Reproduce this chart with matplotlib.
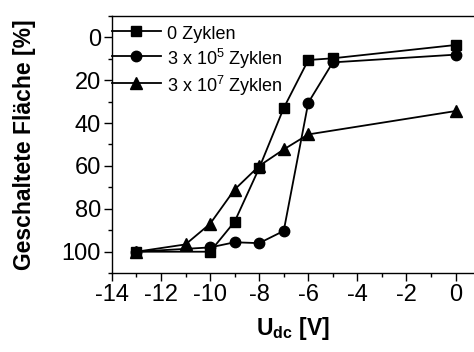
import matplotlib
matplotlib.use("Agg")
import matplotlib.pyplot as plt
from matplotlib.ticker import MultipleLocator

plt.rcParams['font.family'] = ['Liberation Sans', 'DejaVu Sans']
plt.rcParams['axes.unicode_minus'] = False
plt.rcParams['mathtext.fontset'] = 'custom'
plt.rcParams['mathtext.rm'] = 'Liberation Sans'
plt.rcParams['mathtext.bf'] = 'Liberation Sans:bold'

# Switched area vs. DC voltage for different cycle counts
u_sq = [-13, -10, -9, -8, -7, -6, -5, 0]
a_sq = [100, 100, 86, 61, 33, 10.6, 9.8, 3.6]

u_ci = [-13, -10, -9, -8, -7, -6, -5, 0]
a_ci = [100, 98, 95.6, 96, 90.3, 30.5, 11.7, 8.1]

u_tr = [-13, -11, -10, -9, -8, -7, -6, 0]
a_tr = [100, 96.6, 87, 71, 60, 52.3, 45.3, 34.4]

labels = ["0 Zyklen", "3 x 10$^{5}$ Zyklen", "3 x 10$^{7}$ Zyklen"]
xticks = [-14, -12, -10, -8, -6, -4, -2, 0]
yticks = [0, 20, 40, 60, 80, 100]

fig = plt.figure(figsize=(4.74, 3.52), dpi=100)
ax = fig.add_axes([0.236, 0.224, 0.764, 0.731])

kw = dict(color='black', lw=1.3)
ax.plot(u_sq, a_sq, marker='s', markersize=7.5, label=labels[0], **kw)
ax.plot(u_ci, a_ci, marker='o', markersize=7.5, label=labels[1], **kw)
ax.plot(u_tr, a_tr, marker='^', markersize=8.5, label=labels[2], **kw)

ax.set_xlim(-14, 0.75)
ax.set_ylim(110, -10)
ax.set_xticks(xticks)
ax.set_yticks(yticks)
ax.xaxis.set_minor_locator(MultipleLocator(1))
ax.yaxis.set_minor_locator(MultipleLocator(10))
ax.tick_params(axis='both', which='major', direction='out', length=6, width=1,
               labelsize=17, top=False, right=False, pad=2)
ax.tick_params(axis='both', which='minor', direction='out', length=3, width=1,
               top=False, right=False)
ax.spines['right'].set_visible(False)
for s in ['left', 'top', 'bottom']:
    ax.spines[s].set_linewidth(1.0)

ax.set_xlabel(r"U$_{\mathbf{dc}}$ [V]", fontsize=16.5, fontweight='bold', labelpad=6)
ax.set_ylabel("Geschaltete Fläche [%]", fontsize=16.5, fontweight='bold')
ax.yaxis.set_label_coords(-0.21, 0.5)

ax.legend(loc='upper left', frameon=False, fontsize=13, handlelength=2.7,
          handleheight=1.35, handletextpad=0.35, borderaxespad=0.0, borderpad=0.0,
          labelspacing=0.16, bbox_to_anchor=(0.0, 0.971))

fig.savefig("out.png", dpi=100)
